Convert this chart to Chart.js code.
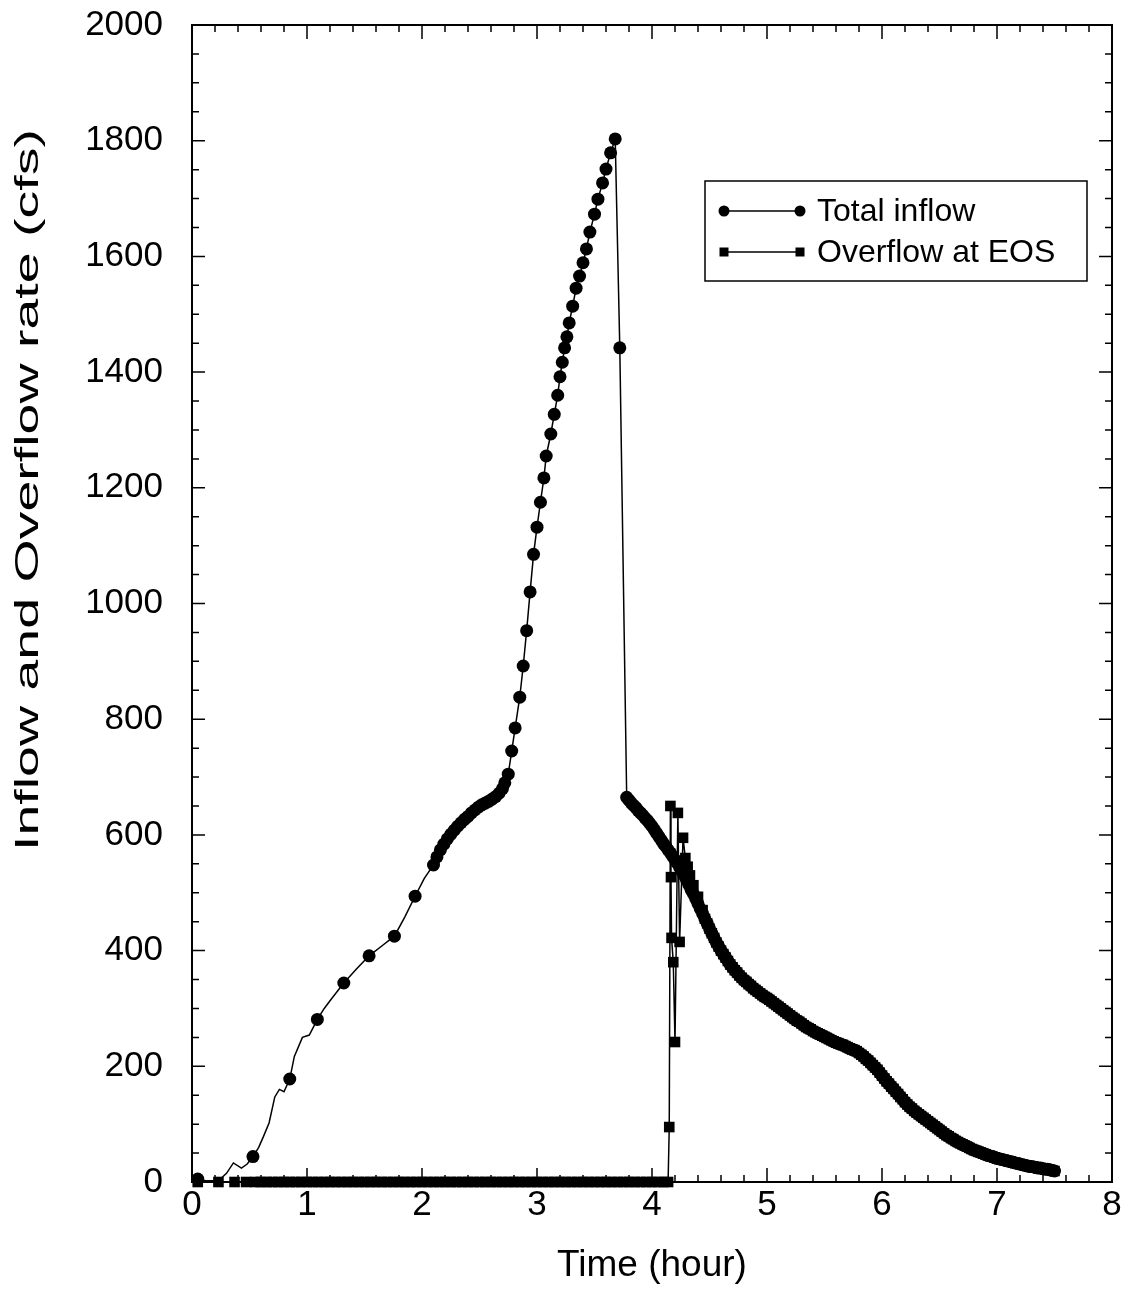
<!DOCTYPE html>
<html>
<head>
<meta charset="utf-8">
<title>Inflow and overflow</title>
<script src="https://cdn.jsdelivr.net/npm/chart.js@4.4.0/dist/chart.umd.min.js"></script>
<style>
  html, body { margin: 0; padding: 0; background: #fff; }
  #wrap { width: 1129px; height: 1296px; }
</style>
</head>
<body>
<div id="wrap"><canvas id="myChart" width="1129" height="1296"></canvas></div>
<script>
// Total inflow, rising limb up to the peak (hour, cfs)
const riseTime = [
  0.05, 0.12, 0.23, 0.30, 0.36, 0.43, 0.48, 0.53, 0.58, 0.62,
  0.67, 0.72, 0.76, 0.80, 0.85, 0.89, 0.96, 1.02, 1.09, 1.15,
  1.21, 1.32, 1.43, 1.54, 1.65, 1.76, 1.85, 1.94, 2.02,
  2.10, 2.13, 2.16, 2.19, 2.22, 2.25, 2.28, 2.31, 2.34, 2.37,
  2.40, 2.43, 2.46, 2.49, 2.52, 2.55, 2.58, 2.61, 2.64, 2.67,
  2.70, 2.72, 2.75,
  2.78, 2.81, 2.85, 2.88, 2.91, 2.94, 2.97, 3.00, 3.03, 3.06,
  3.08, 3.12, 3.15, 3.18, 3.20, 3.22, 3.24, 3.26, 3.28, 3.31,
  3.34, 3.37, 3.40, 3.43, 3.46, 3.50, 3.53, 3.57, 3.60, 3.64,
  3.68, 3.72
];
const riseRate = [
  5, 2, 2, 15, 33, 24, 31, 44, 60, 78,
  102, 147, 160, 156, 178, 217, 250, 254, 281, 300,
  316, 344, 368, 391, 408, 425, 458, 494, 525,
  548, 562, 574, 584, 593, 601, 608, 615, 621, 627,
  632, 638, 643, 648, 652, 655, 658, 662, 666, 672,
  680, 690, 705,
  745, 785, 838, 892, 953, 1020, 1085, 1132, 1175, 1217,
  1255, 1293, 1327, 1360, 1392, 1417, 1442, 1461, 1485, 1514,
  1545, 1566, 1589, 1613, 1642, 1673, 1699, 1727, 1751, 1779,
  1803, 1442
];
// which of the early samples carry a marker (the rest of the series is all marked)
const riseMarked = [
  1, 0, 0, 0, 0, 0, 0, 1, 0, 0,
  0, 0, 0, 0, 1, 0, 0, 0, 1, 0,
  0, 1, 0, 1, 0, 1, 0, 1, 0
];

// recession after the peak (hour, cfs)
const recessTime = [
  3.78, 3.80, 3.82, 3.84, 3.86, 3.88, 3.90, 3.92, 3.94, 3.96,
  3.98, 4.00, 4.02, 4.04, 4.06, 4.08, 4.10, 4.12, 4.14, 4.16,
  4.18, 4.20, 4.22, 4.24, 4.26, 4.28, 4.30, 4.32, 4.34, 4.36,
  4.38, 4.40, 4.42, 4.44, 4.46, 4.48, 4.50, 4.52, 4.54, 4.56,
  4.58, 4.60, 4.62, 4.64, 4.66, 4.68, 4.70, 4.72, 4.74, 4.76,
  4.78, 4.80, 4.82, 4.84, 4.86, 4.88, 4.90, 4.92, 4.94, 4.96,
  4.98, 5.00, 5.02, 5.04, 5.06, 5.08, 5.10, 5.12, 5.14, 5.16,
  5.18, 5.20, 5.22, 5.24, 5.26, 5.28, 5.30, 5.32, 5.34, 5.36,
  5.38, 5.40, 5.42, 5.44, 5.46, 5.48, 5.50, 5.52, 5.54, 5.56,
  5.58, 5.60, 5.62, 5.64, 5.66, 5.68, 5.70, 5.72, 5.74, 5.76,
  5.78, 5.80, 5.82, 5.84, 5.86, 5.88, 5.90, 5.92, 5.94, 5.96,
  5.98, 6.00, 6.02, 6.04, 6.06, 6.08, 6.10, 6.12, 6.14, 6.16,
  6.18, 6.20, 6.22, 6.24, 6.26, 6.28, 6.30, 6.32, 6.34, 6.36,
  6.38, 6.40, 6.42, 6.44, 6.46, 6.48, 6.50, 6.52, 6.54, 6.56,
  6.58, 6.60, 6.62, 6.64, 6.66, 6.68, 6.70, 6.72, 6.74, 6.76,
  6.78, 6.80, 6.82, 6.84, 6.86, 6.88, 6.90, 6.92, 6.94, 6.96,
  6.98, 7.00, 7.02, 7.04, 7.06, 7.08, 7.10, 7.12, 7.14, 7.16,
  7.18, 7.20, 7.22, 7.24, 7.26, 7.28, 7.30, 7.32, 7.34, 7.36,
  7.38, 7.40, 7.42, 7.44, 7.46, 7.48, 7.50
];
const recessRate = [
  665, 660, 655, 651, 647, 642, 638, 634, 629, 625,
  620, 615, 609, 603, 597, 591, 585, 580, 574, 569,
  563, 557, 551, 544, 537, 530, 522, 514, 505, 498,
  490, 481, 472, 464, 455, 447, 438, 430, 422, 414,
  407, 400, 394, 388, 382, 376, 371, 366, 362, 357,
  353, 349, 346, 342, 339, 335, 332, 329, 326, 323,
  320, 318, 315, 312, 309, 306, 303, 300, 297, 294,
  291, 288, 285, 282, 279, 277, 274, 271, 268, 266,
  264, 261, 259, 257, 255, 253, 251, 249, 247, 245,
  243, 241, 240, 238, 237, 235, 233, 231, 229, 228,
  226, 223, 220, 217, 213, 210, 206, 202, 198, 194,
  189, 184, 179, 174, 170, 165, 161, 156, 152, 147,
  143, 138, 134, 130, 127, 123, 120, 117, 114, 111,
  108, 105, 102, 99, 96, 93, 90, 87, 84, 81,
  79, 76, 74, 71, 69, 67, 65, 63, 61, 59,
  57, 55, 54, 52, 51, 49, 48, 46, 45, 44,
  42, 41, 40, 39, 38, 37, 36, 35, 34, 33,
  32, 31, 30, 29, 28, 27, 27, 26, 25, 24,
  24, 23, 22, 22, 21, 20, 19
];

// overflow at EOS before it joins the recession (hour, cfs)
const overflowTime = [
  0.05, 0.23, 0.37, 0.47, 0.55, 0.60, 0.65, 0.70, 0.75, 0.80,
  0.85, 0.90, 0.95, 1.00, 1.05, 1.10, 1.15, 1.20, 1.25, 1.30,
  1.35, 1.40, 1.45, 1.50, 1.55, 1.60, 1.65, 1.70, 1.75, 1.80,
  1.85, 1.90, 1.95, 2.00, 2.05, 2.10, 2.15, 2.20, 2.25, 2.30,
  2.35, 2.40, 2.45, 2.50, 2.55, 2.60, 2.65, 2.70, 2.75, 2.80,
  2.85, 2.90, 2.95, 3.00, 3.05, 3.10, 3.15, 3.20, 3.25, 3.30,
  3.35, 3.40, 3.45, 3.50, 3.55, 3.60, 3.65, 3.70, 3.75, 3.80,
  3.85, 3.90, 3.95, 4.00, 4.05, 4.10, 4.14,
  4.15, 4.16, 4.165, 4.17, 4.185, 4.20, 4.225, 4.24, 4.27, 4.29,
  4.31, 4.33, 4.36, 4.40, 4.44
];
const overflowRate = [
  0, 0, 0, 0, 0, 0, 0, 0, 0, 0,
  0, 0, 0, 0, 0, 0, 0, 0, 0, 0,
  0, 0, 0, 0, 0, 0, 0, 0, 0, 0,
  0, 0, 0, 0, 0, 0, 0, 0, 0, 0,
  0, 0, 0, 0, 0, 0, 0, 0, 0, 0,
  0, 0, 0, 0, 0, 0, 0, 0, 0, 0,
  0, 0, 0, 0, 0, 0, 0, 0, 0, 0,
  0, 0, 0, 0, 0, 0, 0,
  95, 650, 527, 422, 380, 242, 638, 415, 595, 560,
  545, 530, 513, 493, 470
];
// from 4.46 h on the overflow follows the recession samples
const overflowJoin = 34;

const xTicks = [0, 1, 2, 3, 4, 5, 6, 7, 8];
const yTicks = [0, 200, 400, 600, 800, 1000, 1200, 1400, 1600, 1800, 2000];

const FONT = '"Liberation Sans", Arial, Helvetica, sans-serif';

function pairs(xs, ys) {
  return xs.map((t, i) => ({ x: t, y: ys[i] }));
}

const inflowData = pairs(riseTime, riseRate).concat(pairs(recessTime, recessRate));
const inflowRadius = inflowData.map((p, i) => (i < riseMarked.length ? riseMarked[i] : 1) ? 6.5 : 0);
const overflowData = pairs(overflowTime, overflowRate)
  .concat(pairs(recessTime.slice(overflowJoin), recessRate.slice(overflowJoin)));

// frame with inward ticks on all four sides, axis titles and the boxed legend
const framePlugin = {
  id: 'frame',
  beforeDatasetsDraw(chart) {
    const { ctx, chartArea: a, scales: { x, y } } = chart;
    ctx.save();
    ctx.strokeStyle = '#000';
    ctx.lineWidth = 1.5;
    ctx.beginPath();
    for (let k = 0; k <= 40; k++) {
      const px = x.getPixelForValue(k * 0.2);
      const len = k % 5 === 0 ? 14 : 7;
      ctx.moveTo(px, a.bottom); ctx.lineTo(px, a.bottom - len);
      ctx.moveTo(px, a.top); ctx.lineTo(px, a.top + len);
    }
    for (let k = 0; k <= 40; k++) {
      const py = y.getPixelForValue(k * 50);
      const len = k % 4 === 0 ? 13 : 7;
      ctx.moveTo(a.left, py); ctx.lineTo(a.left + len, py);
      ctx.moveTo(a.right, py); ctx.lineTo(a.right - len, py);
    }
    ctx.stroke();
    ctx.lineWidth = 2;
    ctx.strokeRect(a.left, a.top, a.right - a.left, a.bottom - a.top);

    ctx.fillStyle = '#000';
    ctx.textAlign = 'center';
    ctx.textBaseline = 'middle';
    ctx.font = '37px ' + FONT;
    ctx.fillText('Time (hour)', (a.left + a.right) / 2, 1266);

    // the y title is drawn long and narrow, as in the scanned figure
    const yTitle = 'Inflow and Overflow rate (cfs)';
    ctx.font = '34px ' + FONT;
    const stretch = 722 / ctx.measureText(yTitle).width;
    ctx.translate(29, 490);
    ctx.rotate(-Math.PI / 2);
    ctx.scale(stretch, 1);
    ctx.fillText(yTitle, 0, 0);
    ctx.restore();
  },
  afterDraw(chart) {
    const { ctx } = chart;
    const bx = 705, by = 181, bw = 382, bh = 100;
    ctx.save();
    ctx.fillStyle = '#fff';
    ctx.fillRect(bx, by, bw, bh);
    ctx.strokeStyle = '#000';
    ctx.lineWidth = 1.5;
    ctx.strokeRect(bx, by, bw, bh);
    const rows = [
      { y: by + 30, label: 'Total inflow', square: false },
      { y: by + 71, label: 'Overflow at EOS', square: true }
    ];
    rows.forEach(r => {
      ctx.beginPath();
      ctx.moveTo(724, r.y); ctx.lineTo(800, r.y);
      ctx.stroke();
      ctx.fillStyle = '#000';
      [724, 800].forEach(cx => {
        if (r.square) {
          ctx.fillRect(cx - 4.5, r.y - 4.5, 9, 9);
        } else {
          ctx.beginPath();
          ctx.arc(cx, r.y, 5.5, 0, Math.PI * 2);
          ctx.fill();
        }
      });
      ctx.font = '32px ' + FONT;
      ctx.textAlign = 'left';
      ctx.textBaseline = 'middle';
      ctx.fillText(r.label, 817, r.y + 1);
    });
    ctx.restore();
  }
};

const ctx = document.getElementById('myChart').getContext('2d');
const myChart = new Chart(ctx, {
  type: 'line',
  data: {
    datasets: [
      {
        label: 'Overflow at EOS',
        data: overflowData,
        borderColor: '#000',
        backgroundColor: '#000',
        borderWidth: 1.5,
        pointStyle: 'rect',
        pointRadius: 7.5,
        pointBorderWidth: 0,
        tension: 0,
        clip: false
      },
      {
        label: 'Total inflow',
        data: inflowData,
        borderColor: '#000',
        backgroundColor: '#000',
        borderWidth: 1.5,
        pointStyle: 'circle',
        pointRadius: inflowRadius,
        pointBorderWidth: 0,
        tension: 0,
        clip: false
      }
    ]
  },
  options: {
    responsive: false,
    animation: false,
    events: [],
    layout: { padding: { top: 25, right: 17, bottom: 0, left: 0 } },
    plugins: { legend: { display: false }, tooltip: { enabled: false } },
    scales: {
      x: {
        type: 'linear',
        min: 0, max: 8,
        afterBuildTicks: s => { s.ticks = xTicks.map(v => ({ value: v })); },
        afterFit: s => { s.height = 114; s.paddingLeft = 0; s.paddingRight = 0; },
        grid: { display: false, drawTicks: false },
        border: { display: false },
        ticks: { color: '#000', padding: 2, font: { family: FONT, size: 35 }, callback: v => String(v) }
      },
      y: {
        type: 'linear',
        min: 0, max: 2000,
        afterBuildTicks: s => { s.ticks = yTicks.map(v => ({ value: v })); },
        afterFit: s => { s.width = 192; s.paddingTop = 0; s.paddingBottom = 0; },
        grid: { display: false, drawTicks: false },
        border: { display: false },
        ticks: { color: '#000', padding: 29, font: { family: FONT, size: 35 }, callback: v => String(v) }
      }
    }
  },
  plugins: [framePlugin]
});
</script>
</body>
</html>
